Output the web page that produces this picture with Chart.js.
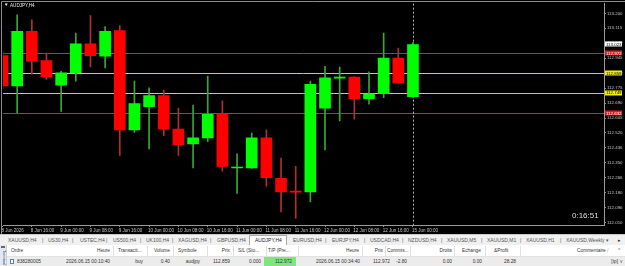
<!DOCTYPE html>
<html><head><meta charset="utf-8">
<script src="https://cdn.jsdelivr.net/npm/chart.js@4/dist/chart.umd.min.js"></script>
<style>
body{margin:0;width:625px;height:266px;overflow:hidden;background:#fff;position:relative;font-family:"Liberation Sans",Arial,sans-serif}
#cw{position:absolute;left:0;top:0;width:625px;height:234px;background:#000}
canvas{display:block}
.t{position:absolute;white-space:nowrap;line-height:1}
.r{transform:translateX(-100%)}
#tabs{position:absolute;left:0;top:234px;width:625px;height:11px;background:#f0f0f0;border-top:1px solid #c8c8c8;box-sizing:border-box;font-size:5px;color:#555}
#tabs .t{top:3px}
#hdr{position:absolute;left:7px;top:245px;width:618px;height:12px;background:#fff;border-bottom:1px solid #e2e2e2;box-sizing:border-box;font-size:4.8px;color:#333}
#hdr .t{top:4px}
#row{position:absolute;left:7px;top:257px;width:618px;height:9px;background:#ececec;font-size:4.8px;color:#333}
#row .t{top:2.5px}
.sep{position:absolute;top:1px;width:1px;height:10px;background:#e0e0e0}
</style></head>
<body>
<div id="cw"><canvas id="c" width="625" height="234"></canvas>
<span class="t" style="left:4px;top:3px;font-size:4.5px;color:#fff">&#9660;</span>
<span class="t" style="left:10px;top:3.5px;font-size:4.6px;color:#e8e8e8">AUDJPY,H4</span>
<span class="t" style="left:572px;top:212px;font-size:8px;color:#dcdcdc">0:16:51</span>
</div>
<div id="tabs">
<span class="t" style="left:8px">XAUUSD,H4</span><span class="t" style="left:42px">|</span>
<span class="t" style="left:48px">US30,H4</span><span class="t" style="left:72px">|</span>
<span class="t" style="left:80px">USTEC,H4</span><span class="t" style="left:106px">|</span>
<span class="t" style="left:113px">US500,H4</span><span class="t" style="left:140px">|</span>
<span class="t" style="left:146px">UK100,H4</span><span class="t" style="left:172px">|</span>
<span class="t" style="left:178px">XAGUSD,H4</span><span class="t" style="left:210px">|</span>
<span class="t" style="left:217px">GBPUSD,H4</span>
<span class="t" style="left:249px;top:0;height:10px;width:38px;background:#fff;border:1px solid #aaa;border-bottom:none;box-sizing:border-box"></span>
<span class="t" style="left:255px;color:#222">AUDJPY,H4</span>
<span class="t" style="left:293px">EURUSD,H4</span><span class="t" style="left:325px">|</span>
<span class="t" style="left:332px">EURJPY,H4</span><span class="t" style="left:364px">|</span>
<span class="t" style="left:370px">USDCAD,H4</span><span class="t" style="left:402px">|</span>
<span class="t" style="left:408px">NZDUSD,H4</span><span class="t" style="left:441px">|</span>
<span class="t" style="left:447px">XAUUSD,M5</span><span class="t" style="left:481px">|</span>
<span class="t" style="left:487px">XAUUSD,M1</span><span class="t" style="left:520px">|</span>
<span class="t" style="left:526px">XAUUSD,H1</span><span class="t" style="left:560px">|</span>
<span class="t" style="left:566px">XAUUSD,Weekly</span>
<span class="t" style="left:606px">&#9662;</span><span class="t" style="left:618px;color:#333">&#9656;</span>
</div>
<div style="position:absolute;left:0;top:245px;width:7px;height:21px;background:#e4e8ee;border-right:1px solid #c8ccd4;box-sizing:border-box;overflow:hidden">
<span class="t" style="left:1px;top:1px;width:4px;height:2px;background:#667"></span>
<span class="t" style="left:6px;top:5px;font-size:4px;color:#3a5fa8;transform:rotate(90deg);transform-origin:0 0">Terminal</span>
</div>
<div id="hdr">
<span class="t" style="left:4px">Ordre</span>
<span class="t r" style="left:103px">Heure</span><div class="sep" style="left:106px"></div>
<span class="t" style="left:111px">Transacti...</span><div class="sep" style="left:140px"></div>
<span class="t r" style="left:163px">Volume</span><div class="sep" style="left:166px"></div>
<span class="t" style="left:171px">Symbole</span><div class="sep" style="left:200px"></div>
<span class="t r" style="left:223px">Prix</span><div class="sep" style="left:226px"></div>
<span class="t" style="left:231px">S/L (Sto...</span><div class="sep" style="left:259px"></div>
<span class="t" style="left:261px">T/P (Pre...</span><div class="sep" style="left:291px"></div>
<span class="t r" style="left:352px">Heure</span><div class="sep" style="left:355px"></div>
<span class="t r" style="left:376px">Prix</span><div class="sep" style="left:378px"></div>
<span class="t" style="left:380px">Commis...</span><div class="sep" style="left:403px"></div>
<span class="t r" style="left:445px">Droits</span><div class="sep" style="left:447px"></div>
<span class="t" style="left:455px">Echange</span><div class="sep" style="left:478px"></div>
<span class="t" style="left:487px">&amp;Profit</span><div class="sep" style="left:513px"></div>
<span class="t" style="left:570px">Commentaire</span>
<span class="t" style="left:600px;color:#999">/</span>
<span class="t" style="left:611px;color:#555">^</span>
</div>
<div id="row">
<span class="t" style="left:3px;top:1.5px;width:4px;height:5px;background:#fff;border:1px solid #5a7fb8;box-sizing:border-box"></span>
<span class="t" style="left:10px">838280005</span>
<span class="t r" style="left:103px">2026.06.15 00:10:40</span>
<span class="t r" style="left:136px">buy</span>
<span class="t r" style="left:163px">0.40</span>
<span class="t r" style="left:193px">audjpy</span>
<span class="t r" style="left:223px">112.859</span>
<span class="t r" style="left:254px">0.000</span>
<span class="t" style="left:257px;top:0;width:32px;height:9px;background:#7fe57f"></span>
<span class="t r" style="left:285px">112.972</span>
<span class="t r" style="left:353px">2026.06.15 00:34:40</span>
<span class="t r" style="left:383px">112.972</span>
<span class="t r" style="left:400px">-2.80</span>
<span class="t r" style="left:445px">0.00</span>
<span class="t r" style="left:475px">0.00</span>
<span class="t r" style="left:509px">28.28</span>
<span class="t r" style="left:611px">[tp]</span>
<span class="t" style="left:613px;color:#555">v</span>
</div>
<script>
// ---- data (AUDJPY, H4) ----
const timeLabels = ['8 Jun 2026','8 Jun 16:00','9 Jun 00:00','9 Jun 08:00','9 Jun 16:00','10 Jun 00:00','10 Jun 08:00','10 Jun 16:00','11 Jun 00:00','11 Jun 08:00','11 Jun 16:00','12 Jun 00:00','12 Jun 08:00','12 Jun 16:00','15 Jun 00:00'];
const timeTickBars = [0,2,4,6,8,10,12,14,16,18,20,22,24,26,28];
const opens  = [112.960,112.787,113.097,112.932,112.791,112.862,113.027,112.956,113.102,112.538,112.670,112.732,112.542,112.458,112.492,112.627,112.321,112.322,112.492,112.262,112.186,112.185,112.661,112.832,112.837,112.715,112.743,112.946,112.726];
const highs  = [112.984,113.191,113.163,112.974,112.871,113.087,113.187,113.125,113.131,112.815,112.777,112.764,112.661,112.679,112.843,112.702,112.401,112.520,112.538,112.377,112.331,112.815,112.899,112.895,112.840,112.867,113.087,113.003,113.035];
const lows   = [112.770,112.634,112.854,112.824,112.642,112.815,112.895,112.890,112.392,112.523,112.430,112.505,112.392,112.322,112.471,112.303,112.176,112.318,112.217,112.072,112.035,112.128,112.424,112.589,112.599,112.683,112.721,112.803,112.719];
const closes = [112.787,113.097,112.928,112.837,112.862,113.027,112.960,113.097,112.538,112.687,112.732,112.542,112.454,112.492,112.626,112.330,112.323,112.492,112.266,112.185,112.184,112.796,112.833,112.834,112.715,112.743,112.946,112.805,113.023];
const priceTicks = [112.010,112.095,112.180,112.265,112.350,112.435,112.520,112.605,112.690,112.775,112.860,112.945,113.030,113.115,113.200];
const priceTickLabels = ['112.010','112.096','112.180','112.266','112.350','112.436','112.520','112.605','112.690','112.775','112.860','112.945','113.030','113.115','113.200'];
const levelPrices = [112.972,112.859,112.749,112.632];
const levelLabels = ['112.972','112.859','112.749','112.632'];
const levelKinds  = ['red','yellow','yellow','red'];
const separatorBar = 28;

// ---- chart ----
const up='#00ff00', dn='#ff0000';
const bodyColors = opens.map((o,i)=>closes[i]>=o?up:dn);
const wickColors = opens.map((o,i)=>closes[i]>=o?'#36a836':'#b03030');
const kindLine = {red:'#b83434', yellow:'#c8c88c'};
const kindBox = {red:['#e41a1a','#ffffff'], yellow:['#f0f000','#000000']};

const overlay = {
  id:'overlay',
  beforeDatasetsDraw(chart){
    const {ctx, chartArea:a, scales:{x,y}} = chart;
    ctx.save();
    ctx.lineWidth=1;
    ctx.strokeStyle='#8c8c8c';
    ctx.beginPath(); ctx.moveTo(1.5,234); ctx.lineTo(1.5,1.5); ctx.lineTo(625,1.5); ctx.stroke();
    levelPrices.forEach((p,i)=>{
      const py=Math.round(y.getPixelForValue(p))+0.5;
      ctx.strokeStyle=kindLine[levelKinds[i]];
      ctx.beginPath(); ctx.moveTo(a.left,py); ctx.lineTo(a.right,py); ctx.stroke();
    });
    const vx=Math.round(x.getPixelForValue(separatorBar))+0.5;
    ctx.setLineDash([2,2]); ctx.strokeStyle='#b0b0b0';
    ctx.beginPath(); ctx.moveTo(vx,a.top); ctx.lineTo(vx,a.bottom); ctx.stroke();
    ctx.restore();
  },
  afterDraw(chart){
    const {ctx, chartArea:a, scales:{y}} = chart;
    ctx.save();
    ctx.font='4.4px "Liberation Sans"'; ctx.textBaseline='middle'; ctx.textAlign='left';
    const boxes = levelPrices.map((p,i)=>({p, label:levelLabels[i], c:kindBox[levelKinds[i]]}));
    const last = closes[closes.length-1];
    boxes.unshift({p:last, label:last.toFixed(3), c:['#ffffff','#000000']});
    boxes.forEach(b=>{
      const py=y.getPixelForValue(b.p);
      ctx.fillStyle=b.c[0]; ctx.fillRect(a.right+1, Math.round(py)-2.5, 17, 5);
      ctx.fillStyle=b.c[1]; ctx.fillText(b.label, a.right+2, py+0.3);
    });
    ctx.restore();
  }
};

new Chart(document.getElementById('c'), {
  type:'bar',
  data:{datasets:[
    {data:opens.map((o,i)=>({x:i,y:[o,closes[i]]})), backgroundColor:bodyColors, barThickness:11, minBarLength:1, grouped:false, order:0, borderWidth:0},
    {data:lows.map((l,i)=>({x:i,y:[l,highs[i]]})), backgroundColor:wickColors, barThickness:1, grouped:false, order:1, borderWidth:0}
  ]},
  options:{
    responsive:false, animation:false, devicePixelRatio:1,
    layout:{padding:{left:3,top:2,right:0,bottom:0}},
    plugins:{legend:{display:false},tooltip:{enabled:false}},
    scales:{
      x:{type:'linear', min:0.034, max:41.03, offset:false,
        afterBuildTicks:s=>{s.ticks=timeTickBars.map(v=>({value:v}));},
        afterFit:s=>{s.height=9;},
        ticks:{autoSkip:false, maxRotation:0, align:'start', labelOffset:-1, padding:1, color:'#c4c4c4', font:{family:'Liberation Sans',size:4.5}, callback:(v,i)=>timeLabels[i]},
        grid:{offset:false, drawOnChartArea:false, drawTicks:true, tickLength:2, color:'#8c8c8c'},
        border:{display:true,color:'#9a9a9a'}
      },
      y:{position:'right', min:111.997, max:113.255,
        afterBuildTicks:s=>{s.ticks=priceTicks.map(v=>({value:v}));},
        afterFit:s=>{s.width=21;},
        ticks:{autoSkip:false, padding:1, crossAlign:'near', color:'#c4c4c4', font:{family:'Liberation Sans',size:4.4}, callback:(v,i)=>priceTickLabels[i]},
        grid:{drawOnChartArea:false, drawTicks:true, tickLength:2, color:'#8c8c8c'},
        border:{display:true,color:'#9a9a9a'}
      }
    }
  },
  plugins:[overlay]
});
</script>
</body></html>
